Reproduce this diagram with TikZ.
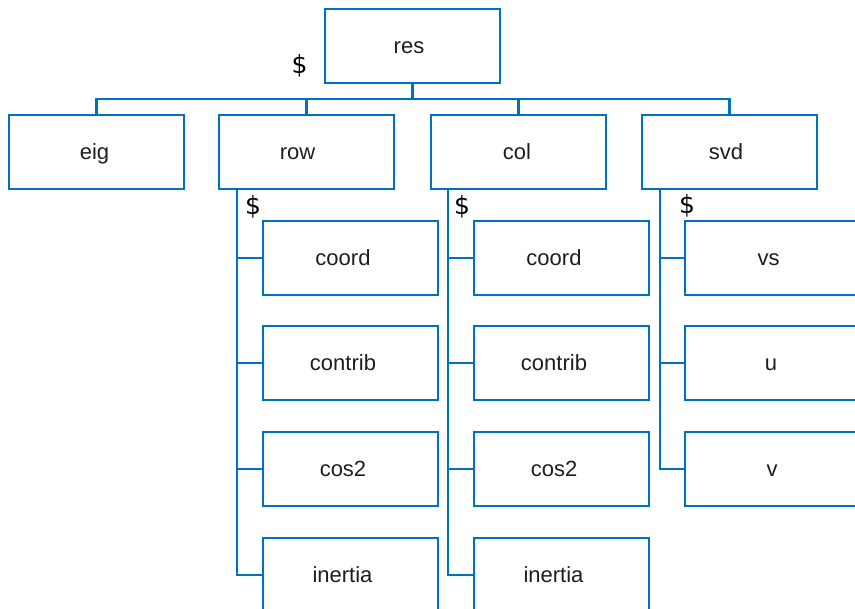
\documentclass[tikz,border=0pt]{standalone}
\usepackage{fontspec}
\newfontfamily\boxfont{Liberation Sans}
\newfontfamily\dolfont{DejaVu Sans}
\definecolor{blueline}{HTML}{0070C0}
\definecolor{txt}{HTML}{1E1E1E}
\tikzset{
  box/.style={draw=blueline, line width=2.8pt, fill=white, minimum width=175pt, minimum height=74pt, inner sep=0pt, text height=20pt, text depth=5pt, text=txt, font=\boxfont\fontsize{22}{26}\selectfont},
  tl/.style={execute at begin node={\hspace*{-#1pt}}},
  conn/.style={draw=blueline, line width=2.8pt},
  dollar/.style={text=black, inner sep=0pt, font=\dolfont\fontsize{25}{30}\selectfont}
}
\begin{document}
\begin{tikzpicture}[x=1pt,y=-1pt]
\useasboundingbox (0,0) rectangle (855,609);
\clip (0,0) rectangle (855,609);
% top
\node[box,tl=7] (res) at (412.5,46) {res};
\node[dollar] (d0) at (299.5,66) {\$};
\node[box,tl=4] (eig) at (96.5,152) {eig};
\node[box,tl=18] (row) at (306.5,152) {row};
\node[box,tl=3] (col) at (518.5,152) {col};
\node[box,tl=7] (svd) at (729.5,152) {svd};
\coordinate (bus) at (412.5,99);
\draw[conn] (res.south) -- (bus);
\draw[conn] (eig.north) |- (bus) -| (svd.north);
\draw[conn] (row.north) -- (row.north |- bus);
\draw[conn] (col.north) -- (col.north |- bus);
% row children
\node[dollar] (d1) at (253,207) {\$};
\node[box,tl=15] (rcoord) at (350.5,258) {coord};
\node[box,tl=15] (rcontrib) at (350.5,363) {contrib};
\node[box,tl=15] (rcos) at (350.5,469) {cos2};
\node[box,tl=16] (rinertia) at (350.5,575) {inertia};
\coordinate (rtop) at (237,189);
\draw[conn] (rtop) |- (rinertia.west);
\draw[conn] (rcoord.west) -- (rcoord.west -| rtop);
\draw[conn] (rcontrib.west) -- (rcontrib.west -| rtop);
\draw[conn] (rcos.west) -- (rcos.west -| rtop);
% col children
\node[dollar] (d2) at (462,207) {\$};
\node[box,tl=15] (ccoord) at (561.5,258) {coord};
\node[box,tl=15] (ccontrib) at (561.5,363) {contrib};
\node[box,tl=15] (ccos) at (561.5,469) {cos2};
\node[box,tl=16] (cinertia) at (561.5,575) {inertia};
\coordinate (ctop) at (448,189);
\draw[conn] (ctop) |- (cinertia.west);
\draw[conn] (ccoord.west) -- (ccoord.west -| ctop);
\draw[conn] (ccontrib.west) -- (ccontrib.west -| ctop);
\draw[conn] (ccos.west) -- (ccos.west -| ctop);
% svd children
\node[dollar] (d3) at (687,206) {\$};
\node[box,tl=8] (svs) at (772.5,258) {vs};
\node[box,tl=3] (su) at (772.5,363) {u};
\node[box,tl=1] (sv) at (772.5,469) {v};
\coordinate (stop) at (660,189);
\draw[conn] (stop) |- (sv.west);
\draw[conn] (svs.west) -- (svs.west -| stop);
\draw[conn] (su.west) -- (su.west -| stop);
\end{tikzpicture}
\end{document}
